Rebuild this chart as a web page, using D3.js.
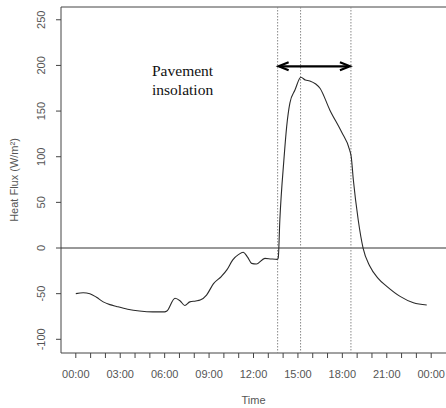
<!DOCTYPE html>
<html>
<head>
<meta charset="utf-8">
<script src="https://cdn.jsdelivr.net/npm/d3@7"></script>
<style>
  body { margin: 0; background: #fff; }
  svg { display: block; }
</style>
</head>
<body>
<svg width="446" height="408"></svg>
<script>
// hours of day and heat flux (W/m2)
var hours = [0, 0.5, 0.95, 1.4, 1.85, 2.3, 2.75, 3.5, 4.3, 5.2, 6.0, 6.15, 6.7, 7.05, 7.36, 7.7, 8.1, 8.4, 8.83,
             9.3, 9.84, 10.2, 10.6, 11.0, 11.3, 11.6, 11.87, 12.2, 12.77, 13.2, 13.6, 13.67, 13.78, 14.05, 14.24,
             14.46, 14.8, 15.2, 15.5, 15.8, 16.49, 17.16, 17.95, 18.5, 18.6, 18.74, 19.07, 19.4, 19.86, 20.4, 21.0,
             21.9, 22.8, 23.7];
var flux = [-50, -49, -50, -54, -59, -62, -64, -67, -69, -70, -70, -69, -55, -58, -63, -59, -58, -57, -51.5,
            -39, -31, -24, -13, -7, -4.7, -10, -16.8, -17.5, -11.3, -12, -12.4, -11, 31, 96, 133,
            159, 173, 187, 184, 183, 175, 151, 127, 107, 100, 75, 31, 0, -20, -33, -42,
            -53, -60, -62.5];
var markers = [13.63, 15.18, 18.58];   // dotted vertical lines
var yTicks = [-100, -50, 0, 50, 100, 150, 200, 250];
var xTicks = d3.range(0, 25, 1);
var xLabels = ["00:00", "03:00", "06:00", "09:00", "12:00", "15:00", "18:00", "21:00", "00:00"];

(function () {
  var svg = d3.select("svg");
  var left = 61, right = 446, topY = 7, bottom = 353;

  var x = d3.scaleLinear().domain([-1, 25]).range([left, right]);
  var y = d3.scaleLinear().domain([-115, 264]).range([bottom, topY]);

  var grey = "#555";
  var sans = "Liberation Sans, Arial, sans-serif";

  // frame (left, top, bottom; right edge falls on the page edge)
  svg.append("path")
     .attr("d", "M" + right + "," + topY + "H" + left + "V" + bottom + "H" + right)
     .attr("fill", "none").attr("stroke", "#444").attr("stroke-width", 1);

  // zero line
  svg.append("line")
     .attr("x1", left).attr("x2", right)
     .attr("y1", y(0)).attr("y2", y(0))
     .attr("stroke", "#333").attr("stroke-width", 1);

  // dotted markers
  svg.selectAll(".mark").data(markers).enter().append("line")
     .attr("class", "mark")
     .attr("x1", d => x(d)).attr("x2", d => x(d))
     .attr("y1", topY).attr("y2", bottom)
     .attr("stroke", "#888").attr("stroke-width", 1)
     .attr("stroke-dasharray", "1.5,1.5");

  // x axis
  var xa = svg.append("g").attr("transform", "translate(0," + bottom + ")");
  xa.selectAll("line").data(xTicks).enter().append("line")
    .attr("x1", d => x(d)).attr("x2", d => x(d))
    .attr("y1", 0).attr("y2", 5)
    .attr("stroke", "#444");
  xa.selectAll("text").data(xLabels).enter().append("text")
    .attr("x", (d, i) => x(i * 3))
    .attr("y", 25)
    .attr("text-anchor", "middle")
    .attr("font-family", sans)
    .attr("font-size", 11)
    .attr("fill", grey)
    .text(d => d);

  // y axis
  var ya = svg.append("g");
  ya.selectAll("line").data(yTicks).enter().append("line")
    .attr("x1", left - 5).attr("x2", left)
    .attr("y1", d => y(d)).attr("y2", d => y(d))
    .attr("stroke", "#444");
  ya.selectAll("text").data(yTicks).enter().append("text")
    .attr("transform", d => "translate(45," + y(d) + ") rotate(-90)")
    .attr("text-anchor", "middle")
    .attr("font-family", sans)
    .attr("font-size", 11)
    .attr("fill", grey)
    .text(d => d);

  // axis titles
  svg.append("text")
     .attr("x", x(12)).attr("y", 404)
     .attr("text-anchor", "middle")
     .attr("font-family", sans)
     .attr("font-size", 11).attr("fill", grey)
     .text("Time");
  svg.append("text")
     .attr("transform", "translate(18," + ((topY + bottom) / 2) + ") rotate(-90)")
     .attr("text-anchor", "middle")
     .attr("font-family", sans)
     .attr("font-size", 11).attr("fill", grey)
     .text("Heat Flux (W/m²)");

  // series
  var line = d3.line()
     .x((d, i) => x(hours[i]))
     .y(d => y(d))
     .curve(d3.curveMonotoneX);
  svg.append("path")
     .datum(flux)
     .attr("d", line)
     .attr("fill", "none")
     .attr("stroke", "#2a2a2a")
     .attr("stroke-width", 1.1);

  // double arrow
  var ay = y(199);
  svg.append("line")
     .attr("x1", x(markers[0]) + 2).attr("x2", x(markers[2]) - 2)
     .attr("y1", ay).attr("y2", ay)
     .attr("stroke", "#000").attr("stroke-width", 2.2);
  [[x(markers[0]) + 1, 1], [x(markers[2]) - 1, -1]].forEach(function (a) {
    svg.append("path")
       .attr("d", "M" + (a[0] + a[1] * 10) + "," + (ay - 4) + "L" + a[0] + "," + ay + "L" + (a[0] + a[1] * 10) + "," + (ay + 4))
       .attr("fill", "none").attr("stroke", "#000").attr("stroke-width", 2.2);
  });

  // annotation
  var note = svg.append("text")
     .attr("font-family", "Liberation Serif, Times New Roman, serif")
     .attr("font-size", 15.5)
     .attr("fill", "#111");
  note.append("tspan").attr("x", 152).attr("y", 76).text("Pavement");
  note.append("tspan").attr("x", 152).attr("y", 95).text("insolation");
})();
</script>
</body>
</html>
